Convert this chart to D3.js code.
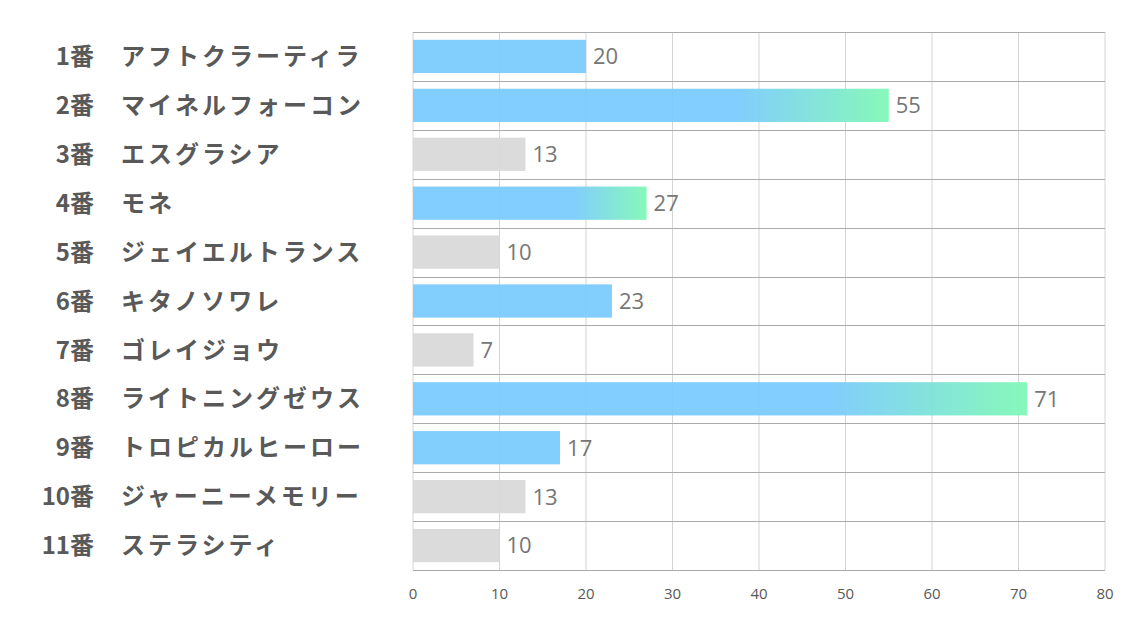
<!DOCTYPE html>
<html>
<head>
<meta charset="utf-8">
<script src="https://cdn.jsdelivr.net/npm/d3@7"></script>
<style>
  body { margin: 0; background: #fff; }
  svg { display: block; }
</style>
</head>
<body>
<div id="chart"></div>
<script>
// horse list and values
const numbers = ["1番","2番","3番","4番","5番","6番","7番","8番","9番","10番","11番"];
const names = ["アフトクラーティラ","マイネルフォーコン","エスグラシア","モネ","ジェイエルトランス","キタノソワレ","ゴレイジョウ","ライトニングゼウス","トロピカルヒーロー","ジャーニーメモリー","ステラシティ"];
const values = [20, 55, 13, 27, 10, 23, 7, 71, 17, 13, 10];
// bar colour type: "b" = blue, "g" = blue->green gradient, "n" = gray
const kinds = ["b","g","n","g","n","b","n","g","b","n","n"];
const xTicks = [0, 10, 20, 30, 40, 50, 60, 70, 80];

const W = 1134, H = 623;
const margin = {top: 32, right: 29, bottom: 53, left: 413};
const width = W - margin.left - margin.right,
      height = H - margin.top - margin.bottom;

const svg = d3.select("#chart").append("svg")
    .attr("width", W)
    .attr("height", H);

const defs = svg.append("defs");
const grad = defs.append("linearGradient")
    .attr("id", "bg")
    .attr("x1", "0").attr("x2", "1").attr("y1", "0").attr("y2", "0");
grad.append("stop").attr("offset", "0.68").attr("stop-color", "#7bcbfd");
grad.append("stop").attr("offset", "1").attr("stop-color", "#80f8b6");

const g = svg.append("g")
    .attr("transform", "translate(" + margin.left + "," + margin.top + ")");

const x = d3.scaleLinear().domain([0, 80]).range([0, width]);
const y = d3.scaleBand()
    .domain(d3.range(names.length))
    .range([0, height])
    .paddingInner(0.32)
    .paddingOuter(0.16);

// vertical gridlines
g.selectAll(".vgrid")
  .data(xTicks)
  .enter().append("line")
    .attr("x1", d => x(d)).attr("x2", d => x(d))
    .attr("y1", 0).attr("y2", height)
    .attr("stroke", "#d4d4d4")
    .attr("stroke-width", 1);

// horizontal row separators
const step = y.step();
g.selectAll(".hgrid")
  .data(d3.range(names.length + 1))
  .enter().append("line")
    .attr("x1", 0).attr("x2", width)
    .attr("y1", d => Math.round(d * step) + 0.5)
    .attr("y2", d => Math.round(d * step) + 0.5)
    .attr("stroke", "#ababab")
    .attr("stroke-width", 1);

// bars
const fillFor = k => k === "g" ? "url(#bg)" : (k === "b" ? "#7bcbfd" : "#d9d9d9");
g.selectAll(".bar")
  .data(values)
  .enter().append("rect")
    .attr("x", x(0))
    .attr("y", (d, i) => y(i))
    .attr("width", d => x(d) - x(0))
    .attr("height", y.bandwidth())
    .attr("fill", (d, i) => fillFor(kinds[i]))
    .attr("fill-opacity", 0.95);

// value labels
g.selectAll(".val")
  .data(values)
  .enter().append("text")
    .attr("x", d => x(d) + 7)
    .attr("y", (d, i) => y(i) + y.bandwidth() / 2)
    .attr("dy", "0.36em")
    .style("font-family", "'Open Sans', 'Noto Sans', sans-serif")
    .style("font-size", "22px")
    .attr("fill", "#767676")
    .text(d => d);

// x axis tick labels
g.selectAll(".tick")
  .data(xTicks)
  .enter().append("text")
    .attr("x", d => x(d))
    .attr("y", height + 29)
    .attr("text-anchor", "middle")
    .style("font-family", "'Open Sans', 'Noto Sans', sans-serif")
    .style("font-size", "15px")
    .attr("fill", "#595959")
    .text(d => d);

// category labels (number + name)
const lab = svg.append("g")
    .attr("transform", "translate(0," + margin.top + ")")
    .style("font-family", "'Noto Sans CJK JP', sans-serif")
    .style("font-weight", "bold")
    .style("font-size", "24px")
    .attr("fill", "#595959");

lab.selectAll(".num")
  .data(numbers)
  .enter().append("text")
    .attr("x", 94)
    .attr("y", (d, i) => y(i) + y.bandwidth() / 2)
    .attr("dy", "0.36em")
    .attr("text-anchor", "end")
    .text(d => d);

lab.selectAll(".name")
  .data(names)
  .enter().append("text")
    .attr("x", 121)
    .attr("y", (d, i) => y(i) + y.bandwidth() / 2)
    .attr("dy", "0.36em")
    .style("letter-spacing", "3px")
    .text(d => d);
</script>
</body>
</html>
